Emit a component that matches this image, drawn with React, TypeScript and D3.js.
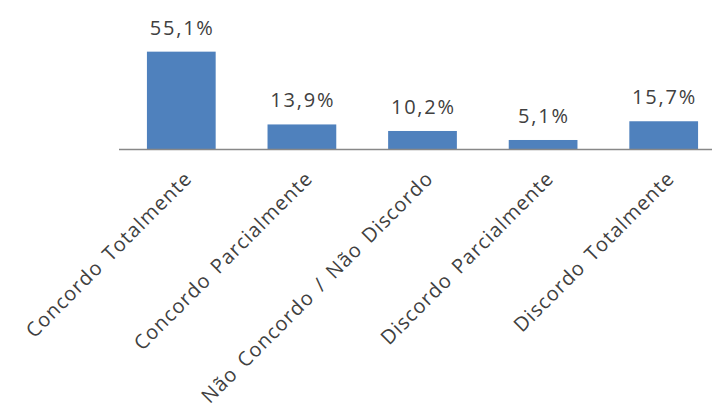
import React from "react";
import * as d3 from "d3";

const categories = [
  "Concordo Totalmente",
  "Concordo Parcialmente",
  "Não Concordo / Não Discordo",
  "Discordo Parcialmente",
  "Discordo Totalmente",
];
const values = [0.551, 0.139, 0.102, 0.051, 0.157];
const valueLabels = ["55,1%", "13,9%", "10,2%", "5,1%", "15,7%"];

const W = 712;
const H = 412;
const baseY = 149;

export default function App() {
  const x = d3.scaleBand<string>().domain(categories).range([121, 724]).paddingInner(0.43).paddingOuter(0.215);
  const y = d3.scaleLinear().domain([0, 0.6]).range([baseY, baseY - 106]);
  const font = "'Open Sans', sans-serif";
  const vls = 1.8;
  const cls = 1.0;
  return (
    <svg width={W} height={H} style={{ position: "absolute", left: 0, top: 0, background: "#fff" }}>
      {categories.map((c, i) => (
        <rect key={c} x={x(c)!} y={y(values[i])} width={x.bandwidth()} height={baseY - y(values[i])} fill="#4F81BD" />
      ))}
      <line x1={119} x2={724} y1={baseY + 0.5} y2={baseY + 0.5} stroke="#888" strokeWidth={1.5} />
      {categories.map((c, i) => (
        <text key={"v" + c} x={x(c)! + x.bandwidth() / 2 + vls / 2} y={y(values[i]) - 17} textAnchor="middle"
          fontFamily={font} fontSize={20} letterSpacing={vls} fill="#404040">{valueLabels[i]}</text>
      ))}
      {categories.map((c) => {
        const cx = x(c)! + x.bandwidth() / 2;
        return (
          <text key={"c" + c} transform={`translate(${cx},${baseY + 19}) rotate(-45)`} textAnchor="end"
            fontFamily={font} fontSize={20} letterSpacing={cls} wordSpacing={3} fill="#404040" dominantBaseline="hanging">{c}</text>
        );
      })}
    </svg>
  );
}
